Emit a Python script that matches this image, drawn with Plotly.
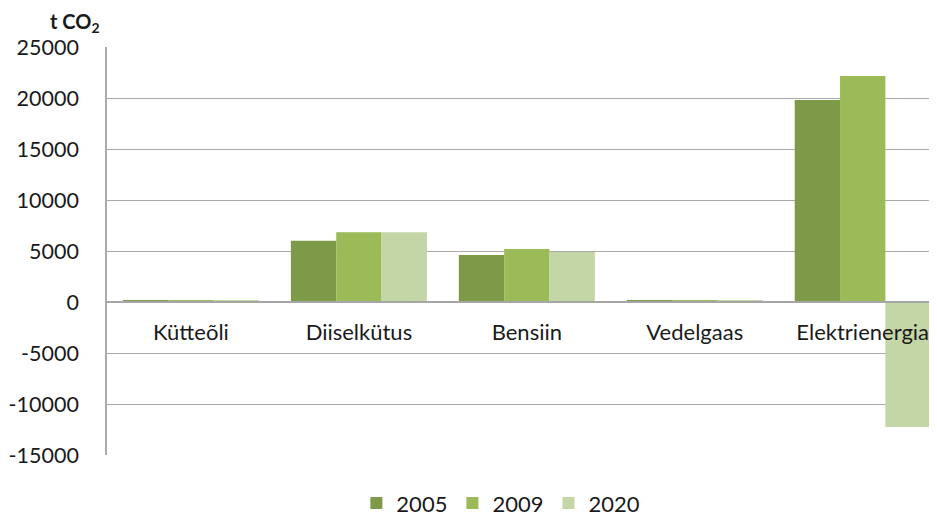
import plotly.graph_objects as go

categories = ["Kütteõli", "Diiselkütus", "Bensiin", "Vedelgaas", "Elektrienergia"]
years = ["2005", "2009", "2020"]
v2005 = [150, 6000, 4600, 150, 19800]
v2009 = [150, 6850, 5200, 150, 22150]
v2020 = [150, 6850, 4900, 150, -12250]
colors = ["#7d9a49", "#9bbb59", "#c4d6a6"]
y_ticks = [-15000, -10000, -5000, 0, 5000, 10000, 15000, 20000, 25000]

FONT = "Lato, 'Open Sans', sans-serif"

fig = go.Figure()
for name, vals, col in zip(years, [v2005, v2009, v2020], colors):
    fig.add_trace(go.Bar(x=categories, y=vals, name=name, marker=dict(color=col, line=dict(width=0))))

fig.update_layout(
    width=937, height=518,
    margin=dict(l=99, r=0, t=39, b=71),
    paper_bgcolor="white", plot_bgcolor="white",
    font=dict(family=FONT, size=22, color="#1a1a1a"),
    barmode="group", bargap=0.19, bargroupgap=0,
    showlegend=True,
    legend=dict(orientation="h", x=0.47, xanchor="center", y=-0.118, yanchor="middle",
                font=dict(size=22), itemwidth=30, traceorder="normal"),
    xaxis=dict(type="category", range=[-0.5, 4.49], anchor="free", position=0.375,
               showline=True, linecolor="#a6a6a6", linewidth=1.5, showgrid=False,
               ticks="", ticklabelstandoff=11, tickfont=dict(size=22)),
    yaxis=dict(range=[-15000, 25000], tickvals=y_ticks, ticktext=[str(v) for v in y_ticks],
               showgrid=True, gridcolor="#aaaaaa", gridwidth=1.3, zeroline=False,
               showline=True, linecolor="#aaaaaa", linewidth=1.5, ticks="",
               ticklabelstandoff=22, tickfont=dict(size=21.5)),
    annotations=[dict(text="<b>t CO<sub>2</sub></b>", xref="paper", yref="paper",
                      x=-0.038, y=1.06, xanchor="center", yanchor="middle",
                      showarrow=False, font=dict(size=20, color="#1a1a1a"))],
)

fig.write_html("out.html")
